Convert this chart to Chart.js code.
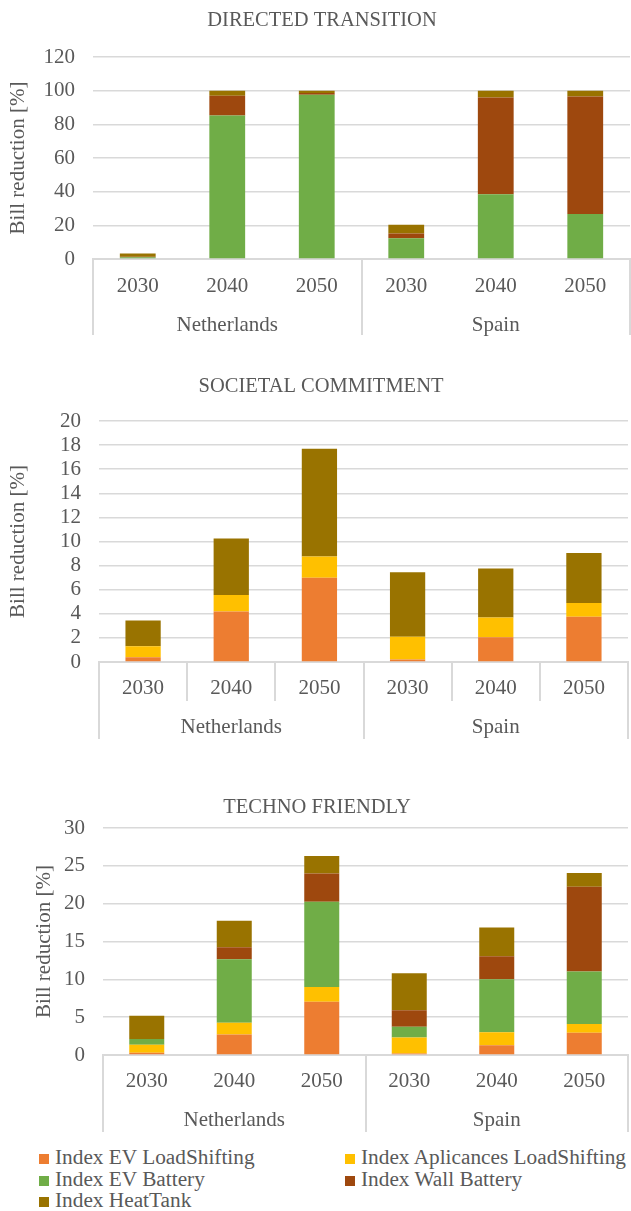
<!DOCTYPE html>
<html>
<head>
<meta charset="utf-8">
<script src="https://cdn.jsdelivr.net/npm/chart.js@4/dist/chart.umd.min.js"></script>
<style>
    body { margin: 0; background: #fff; width: 631px; height: 1211px; position: relative; overflow: hidden; font-family: "Liberation Serif", Tinos, serif; }
    .box { position: absolute; left: 0; width: 631px; }
    #legend { position: absolute; left: 0; top: 1147px; width: 631px; font-size: 21.3px; font-family: "Liberation Serif", Tinos, serif; color: #595959; }
    .item { position: absolute; line-height: 21.5px; white-space: nowrap; }
    .item span { display: inline-block; width: 10px; height: 10px; margin-right: 6px; vertical-align: 0px; }
</style>
</head>
<body>
<div class="box" style="top:0;height:340px"><canvas id="chartDT" width="631" height="340"></canvas></div>
<div class="box" style="top:365px;height:380px"><canvas id="chartSC" width="631" height="380"></canvas></div>
<div class="box" style="top:785px;height:350px"><canvas id="chartTF" width="631" height="350"></canvas></div>
<div id="legend"></div>

<script>
// Data
const years = ['2030', '2040', '2050', '2030', '2040', '2050'];
const countries = ['Netherlands', 'Spain'];
const seriesNames = ['Index EV LoadShifting', 'Index Aplicances LoadShifting', 'Index EV Battery', 'Index Wall Battery', 'Index HeatTank'];
const seriesColors = ['#ED7D31', '#FFC000', '#70AD47', '#9E480E', '#997300'];

// Directed transition
const dtEvLoad = [0, 0, 0, 0, 0, 0];
const dtAppLoad = [0, 0, 0, 0, 0, 0];
const dtEvBattery = [1.0, 85.3, 97.6, 12.3, 38.4, 26.7];
const dtWallBattery = [0.4, 11.7, 1.0, 2.9, 57.6, 69.9];
const dtHeatTank = [1.8, 3.0, 1.4, 5.2, 4.0, 3.4];

// Societal commitment
const scEvLoad = [0.4, 4.2, 7.0, 0.2, 2.05, 3.75];
const scAppLoad = [0.9, 1.35, 1.75, 1.9, 1.65, 1.15];
const scEvBattery = [0, 0, 0, 0, 0, 0];
const scWallBattery = [0, 0, 0, 0, 0, 0];
const scHeatTank = [2.15, 4.7, 8.95, 5.35, 4.05, 4.15];

// Techno friendly
const tfEvLoad = [0.3, 2.7, 7.05, 0.2, 1.3, 2.95];
const tfAppLoad = [1.05, 1.55, 1.95, 2.1, 1.7, 1.15];
const tfEvBattery = [0.75, 8.4, 11.25, 1.45, 7.0, 6.95];
const tfWallBattery = [0, 1.6, 3.75, 2.15, 3.05, 11.2];
const tfHeatTank = [3.1, 3.5, 2.3, 4.9, 3.8, 1.8];

const textColor = '#595959';
const gridColor = '#D9D9D9';
Chart.defaults.font.family = '"Liberation Serif", Tinos, serif';
Chart.defaults.color = textColor;

// vertical separator lines under the axis (year row + country row)
const separators = {
    id: 'separators',
    afterDraw(chart, args, opts) {
        const { ctx, chartArea, scales: { x } } = chart;
        const base = chartArea.bottom;
        const half = (x.getPixelForValue(1) - x.getPixelForValue(0)) / 2;
        ctx.save();
        ctx.strokeStyle = gridColor;
        ctx.lineWidth = 2;
        const line = (px, len) => {
            ctx.beginPath();
            ctx.moveTo(Math.round(px), base);
            ctx.lineTo(Math.round(px), base + len);
            ctx.stroke();
        };
        if (opts.yearLen) {
            [1, 2, 4, 5].forEach(i => line(x.getPixelForValue(i) - half, opts.yearLen));
        }
        line(x.getPixelForValue(0) - half, opts.groupLen);
        line(x.getPixelForValue(3) - half, opts.groupLen);
        line(Math.min(x.getPixelForValue(5) + half, chart.width - 1), opts.groupLen);
        ctx.restore();
    }
};

function makeChart(id, title, values, yMax, yStep, cfg) {
    const datasets = values.map((data, i) => ({
        label: seriesNames[i],
        data: data,
        backgroundColor: seriesColors[i],
        borderWidth: 0,
        barPercentage: 0.4,
        categoryPercentage: 1
    }));

    return new Chart(document.getElementById(id), {
        type: 'bar',
        data: { labels: years, datasets: datasets },
        plugins: [separators],
        options: {
            responsive: false,
            animation: false,
            devicePixelRatio: 1,
            layout: { padding: { left: cfg.padLeft, right: cfg.padRight, top: 0, bottom: cfg.padBottom } },
            plugins: {
                legend: { display: false },
                tooltip: { enabled: false },
                title: {
                    display: true,
                    text: title,
                    color: textColor,
                    font: { size: 20.5, weight: 'normal' },
                    padding: { top: cfg.titleTop, bottom: cfg.titleBottom }
                },
                separators: { yearLen: cfg.yearLen, groupLen: cfg.groupLen }
            },
            scales: {
                x: {
                    stacked: true,
                    grid: { display: false },
                    border: { display: true, color: gridColor, width: 2 },
                    ticks: { font: { size: 21 }, color: textColor, padding: cfg.yearPad, maxRotation: 0 },
                    afterFit: s => { s.height = 40; }
                },
                x2: {
                    type: 'category',
                    labels: countries,
                    position: 'bottom',
                    offset: true,
                    grid: { display: false },
                    border: { display: false },
                    ticks: { font: { size: 21 }, color: textColor, padding: cfg.yearPad - 1, maxRotation: 0 },
                    afterFit: s => { s.height = 40; }
                },
                y: {
                    stacked: true,
                    min: 0,
                    max: yMax,
                    ticks: { stepSize: yStep, autoSkip: false, font: { size: 21 }, color: textColor, padding: 18 },
                    grid: { color: gridColor, lineWidth: 1.5, drawTicks: false },
                    border: { display: false },
                    title: {
                        display: true,
                        text: 'Bill reduction [%]',
                        color: textColor,
                        font: { size: 21 },
                        padding: { top: cfg.yTitlePad, bottom: 0 }
                    },
                    afterFit: s => { s.width = cfg.yWidth; }
                }
            }
        }
    });
}

makeChart('chartDT', 'DIRECTED TRANSITION',
    [dtEvLoad, dtAppLoad, dtEvBattery, dtWallBattery, dtHeatTank], 120, 20,
    { titleTop: 8.7, titleBottom: 23.7, padLeft: 14, padBottom: 1, padRight: 1, yWidth: 79, yTitlePad: -8.6, yearPad: 6.5, yearLen: 0, groupLen: 76 });

makeChart('chartSC', 'SOCIETAL COMMITMENT',
    [scEvLoad, scAppLoad, scEvBattery, scWallBattery, scHeatTank], 20, 2,
    { titleTop: 9.2, titleBottom: 22.2, padLeft: 14, padBottom: 3, padRight: 3, yWidth: 85, yTitlePad: -8.6, yearPad: 5.5, yearLen: 39, groupLen: 77 });

makeChart('chartTF', 'TECHNO FRIENDLY',
    [tfEvLoad, tfAppLoad, tfEvBattery, tfWallBattery, tfHeatTank], 30, 5,
    { titleTop: 10.2, titleBottom: 8.2, padLeft: 6, padBottom: 0, padRight: 3, yWidth: 97, yTitlePad: 25.4, yearPad: 5.5, yearLen: 0, groupLen: 77 });

// Legend (two columns)
const legendPos = [[39, 0], [345, 0], [39, 21.5], [345, 21.5], [39, 43]];
const legend = document.getElementById('legend');
seriesNames.forEach((name, i) => {
    const item = document.createElement('div');
    item.className = 'item';
    item.style.left = legendPos[i][0] + 'px';
    item.style.top = legendPos[i][1] + 'px';
    item.innerHTML = '<span style="background:' + seriesColors[i] + '"></span>' + name;
    legend.appendChild(item);
});
</script>
</body>
</html>
